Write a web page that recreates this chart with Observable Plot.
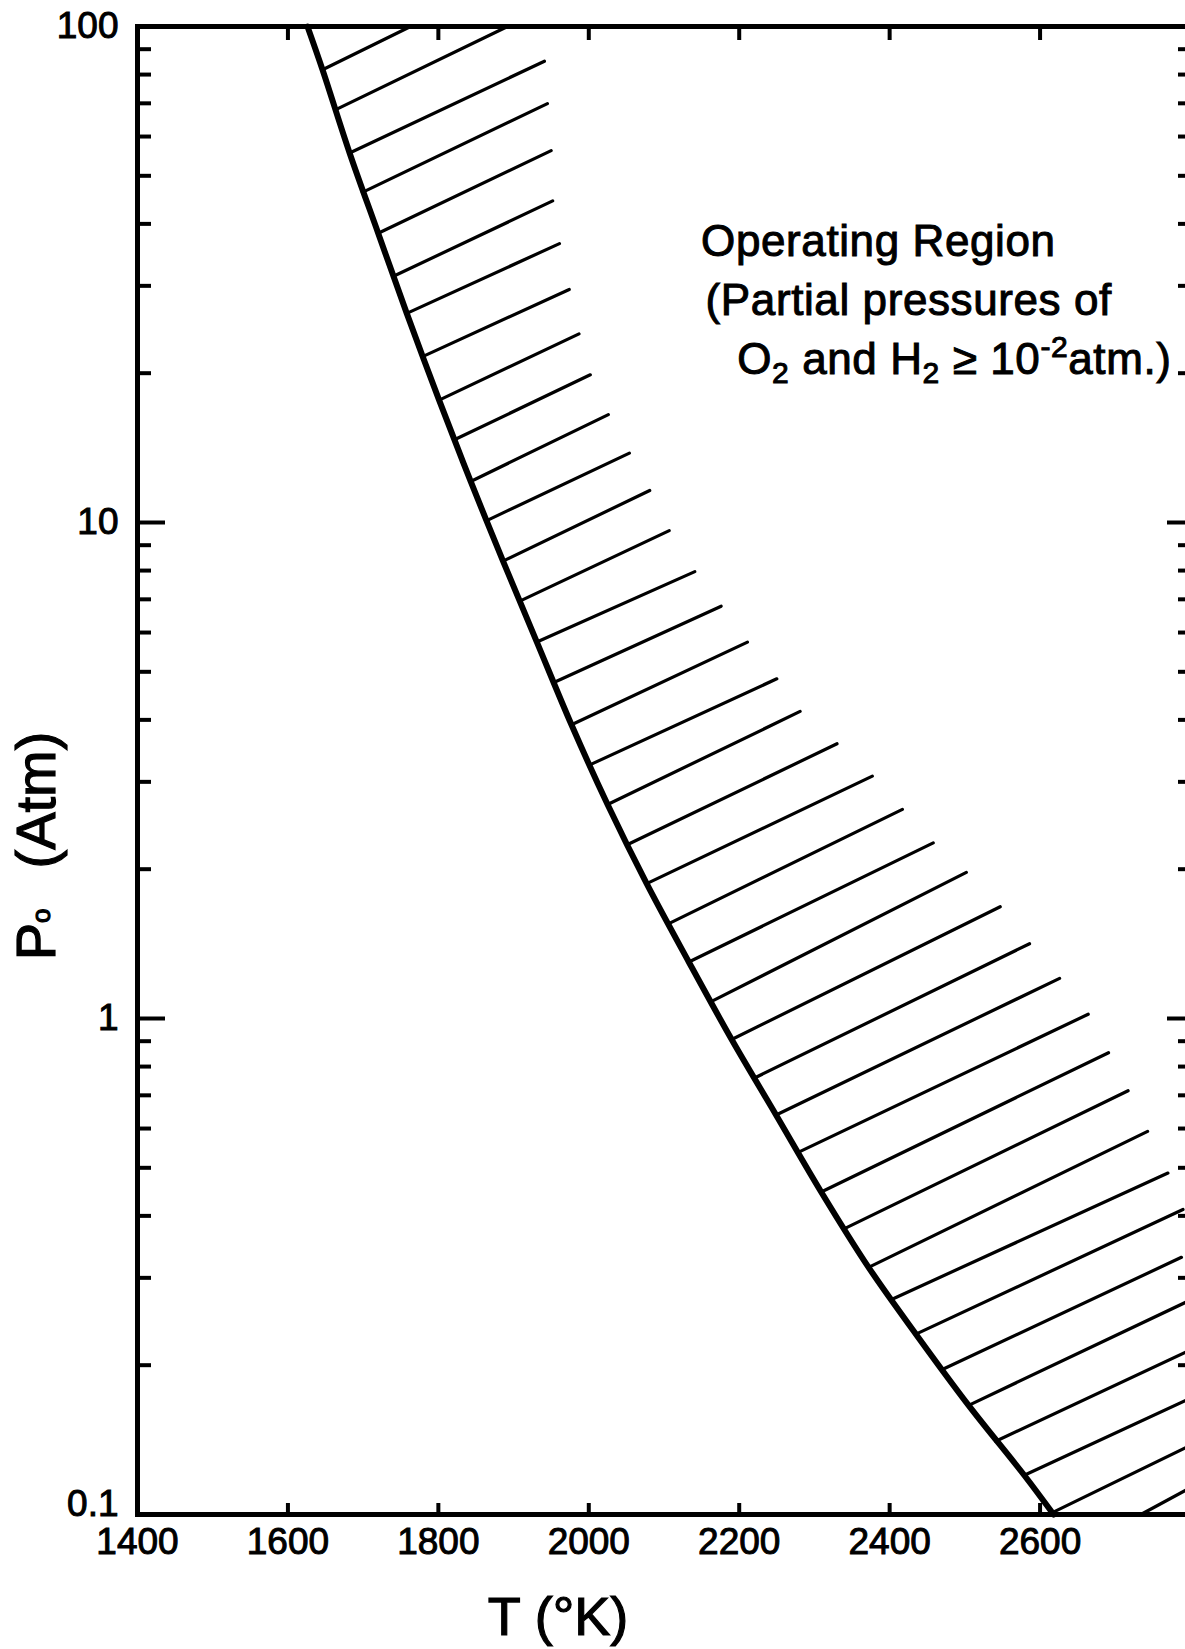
<!DOCTYPE html>
<html>
<head>
<meta charset="utf-8">
<script src="https://cdn.jsdelivr.net/npm/d3@7"></script>
<script src="https://cdn.jsdelivr.net/npm/@observablehq/plot@0.6"></script>
<style>
  html, body { margin: 0; padding: 0; background: #fff; overflow: hidden; }
  #chart svg { display: block; }
</style>
</head>
<body>
<div id="chart"></div>
<script>
// ---- Boundary curve of the operating region: T (°K) vs Po (atm) ----
const curveT = [1626, 1646, 1682, 1720, 1758, 1801, 1843, 1886, 1931, 1977, 2025, 2077, 2133, 2190, 2249, 2309, 2372, 2435, 2505, 2579, 2618];
const curveP = [100, 81.8, 55.6, 38.3, 26.4, 17.65, 12.1, 8.36, 5.74, 3.91, 2.70, 1.87, 1.30, 0.907, 0.639, 0.447, 0.315, 0.231, 0.166, 0.120, 0.1];

// ---- Hatch segments (start on the curve, end in the operating region) ----
const hatchT1 = [1646, 1663, 1682, 1699, 1720, 1741, 1758, 1779, 1801, 1822, 1843, 1865, 1886, 1909, 1931, 1955, 1977, 2002, 2025, 2051, 2077, 2105, 2133, 2162, 2190, 2219, 2249, 2277, 2309, 2340, 2372, 2404, 2435, 2470, 2505, 2541, 2579, 2617, 2734];
const hatchP1 = [81.8, 67.9, 55.6, 46.3, 38.3, 31.4, 26.4, 21.6, 17.65, 14.7, 12.1, 10.1, 8.36, 6.95, 5.74, 4.77, 3.91, 3.25, 2.70, 2.24, 1.87, 1.55, 1.30, 1.08, 0.907, 0.757, 0.639, 0.536, 0.447, 0.377, 0.315, 0.272, 0.231, 0.196, 0.166, 0.1405, 0.120, 0.101, 0.1];
const hatchT2 = [1763, 1892, 1941, 1945, 1950, 1952, 1961, 1974, 1987, 2002, 2026, 2054, 2081, 2107, 2141, 2176, 2211, 2250, 2281, 2330, 2377, 2417, 2458, 2502, 2547, 2586, 2626, 2664, 2691, 2717, 2743, 2770, 2790, 2788, 2794, 2794, 2794, 2794, 2794];
const hatchP2 = [100, 100, 85.1, 69.9, 56.2, 44.5, 36.5, 29.5, 24.0, 19.85, 16.5, 13.8, 11.6, 9.63, 7.96, 6.78, 5.74, 4.84, 4.16, 3.58, 3.08, 2.64, 2.26, 1.97, 1.68, 1.415, 1.205, 1.02, 0.853, 0.715, 0.592, 0.488, 0.412, 0.33, 0.268, 0.2126, 0.170, 0.1365, 0.112];

// ---- Axes ----
const xDomain = [1400, 2800];
const yDomain = [0.1, 100];
const xTickLabels = [1400, 1600, 1800, 2000, 2200, 2400, 2600];
const xTickMarks = [1600, 1800, 2000, 2200, 2400, 2600];
const yTickLabels = [1, 10, 100];
const yBottomLabel = [0.1];
const yMajorTicks = [1, 10];
const yMinorTicks = [0.2, 0.3, 0.4, 0.5, 0.6, 0.7, 0.8, 0.9, 2, 3, 4, 5, 6, 7, 8, 9, 20, 30, 40, 50, 60, 70, 80, 90];

// ---- Texts ----
const xTitle = "T (°K)";
const yTitleSymbol = "P";
const yTitleSub = "o";
const yTitleUnit = "(Atm)";
const noteT = [2150, 2156, 2198];
const noteP = [34.4, 26.1, 19.9];
const noteRuns = [
  [["Operating Region"]],
  [["(Partial pressures of"]],
  [["O"], ["2", "sub"], [" and H"], ["2", "sub"], [" ≥ 10"], ["-2", "sup"], ["atm.)"]]
];

// ---- Build ----
const W = 1185, H = 1649;
const mL = 137, mT = 26, mB = 135, mR = -5;
const plotW = W - mL - mR;
const plotH = H - mT - mB;
const FONT = "'Liberation Sans', Arial, Helvetica, sans-serif";

const curve = curveT.map((T, i) => ({T, P: curveP[i]}));
const hatch = hatchT1.map((T, i) => ({T1: T, P1: hatchP1[i], T2: hatchT2[i], P2: hatchP2[i]}));

const chart = Plot.plot({
  width: W, height: H,
  marginLeft: mL, marginRight: mR, marginTop: mT, marginBottom: mB,
  style: {fontFamily: FONT, background: "#fff", color: "#000", overflow: "hidden"},
  x: {domain: xDomain, axis: null},
  y: {type: "log", domain: yDomain, axis: null},
  marks: [
    Plot.link(hatch, {x1: "T1", y1: "P1", x2: "T2", y2: "P2", stroke: "#000", strokeWidth: 3.2, strokeLinecap: "round"}),
    Plot.line(curve, {x: "T", y: "P", stroke: "#000", strokeWidth: 6, curve: "catmull-rom"}),
    Plot.tickY(yMinorTicks, {y: d => d, insetRight: plotW - 14, stroke: "#000", strokeWidth: 4}),
    Plot.tickY(yMajorTicks, {y: d => d, insetRight: plotW - 28, stroke: "#000", strokeWidth: 4}),
    Plot.tickY(yMinorTicks, {y: d => d, insetLeft: plotW - 12, stroke: "#000", strokeWidth: 4}),
    Plot.tickY(yMajorTicks, {y: d => d, insetLeft: plotW - 23, stroke: "#000", strokeWidth: 4}),
    Plot.tickX(xTickMarks, {x: d => d, insetTop: plotH - 11, stroke: "#000", strokeWidth: 4}),
    Plot.tickX(xTickMarks, {x: d => d, insetBottom: plotH - 14, stroke: "#000", strokeWidth: 4}),
    Plot.frame({stroke: "#000", strokeWidth: 5}),
    Plot.axisX({ticks: xTickLabels, anchor: "bottom", tickSize: 0, tickPadding: 13, label: null, tickFormat: d => String(d), fontSize: 37}),
    Plot.axisY({ticks: yTickLabels, anchor: "left", tickSize: 0, tickPadding: 19, label: null, tickFormat: d => String(d), fontSize: 37}),
    Plot.axisY({ticks: yBottomLabel, anchor: "left", tickSize: 0, tickPadding: 19, dy: -10, label: null, tickFormat: d => String(d), fontSize: 37})
  ]
});

document.getElementById("chart").appendChild(chart);

const svg = d3.select(chart);
const sx = chart.scale("x"), sy = chart.scale("y");

// Heavier, lettering-like tick labels
svg.selectAll("g[aria-label$='tick label'] text")
  .attr("fill", "#000")
  .attr("stroke", "#000")
  .attr("stroke-width", 1);

// Annotation
noteRuns.forEach((runs, i) => {
  const t = svg.append("text")
    .attr("x", sx.apply(noteT[i]))
    .attr("y", sy.apply(noteP[i]))
    .attr("text-anchor", "start")
    .attr("font-family", FONT)
    .attr("font-size", 44)
    .attr("letter-spacing", 0.6)
    .attr("fill", "#000")
    .attr("stroke", "#000")
    .attr("stroke-width", 1)
    .style("white-space", "pre");
  let shift = 0;
  runs.forEach(([s, kind]) => {
    const ts = t.append("tspan").text(s);
    if (kind === "sub") { ts.attr("font-size", 30).attr("dy", 9 - shift); shift = 9; }
    else if (kind === "sup") { ts.attr("font-size", 30).attr("dy", -17 - shift); shift = -17; }
    else if (shift) { ts.attr("dy", -shift); shift = 0; }
  });
});

// X title
svg.append("text")
  .attr("x", 558).attr("y", 1635)
  .attr("text-anchor", "middle")
  .attr("font-family", FONT).attr("font-size", 54)
  .attr("fill", "#000").attr("stroke", "#000").attr("stroke-width", 1.2)
  .text(xTitle);

// Y title (rotated)
const yt = svg.append("text")
  .attr("transform", "translate(55,846) rotate(-90)")
  .attr("text-anchor", "middle")
  .attr("font-family", FONT).attr("font-size", 56)
  .attr("fill", "#000").attr("stroke", "#000").attr("stroke-width", 1.2)
  .style("white-space", "pre");
yt.append("tspan").text(yTitleSymbol);
yt.append("tspan").attr("font-size", 26).attr("dy", -5).text(yTitleSub);
yt.append("tspan").attr("dy", 5).attr("dx", 40).text(yTitleUnit);
</script>
</body>
</html>
